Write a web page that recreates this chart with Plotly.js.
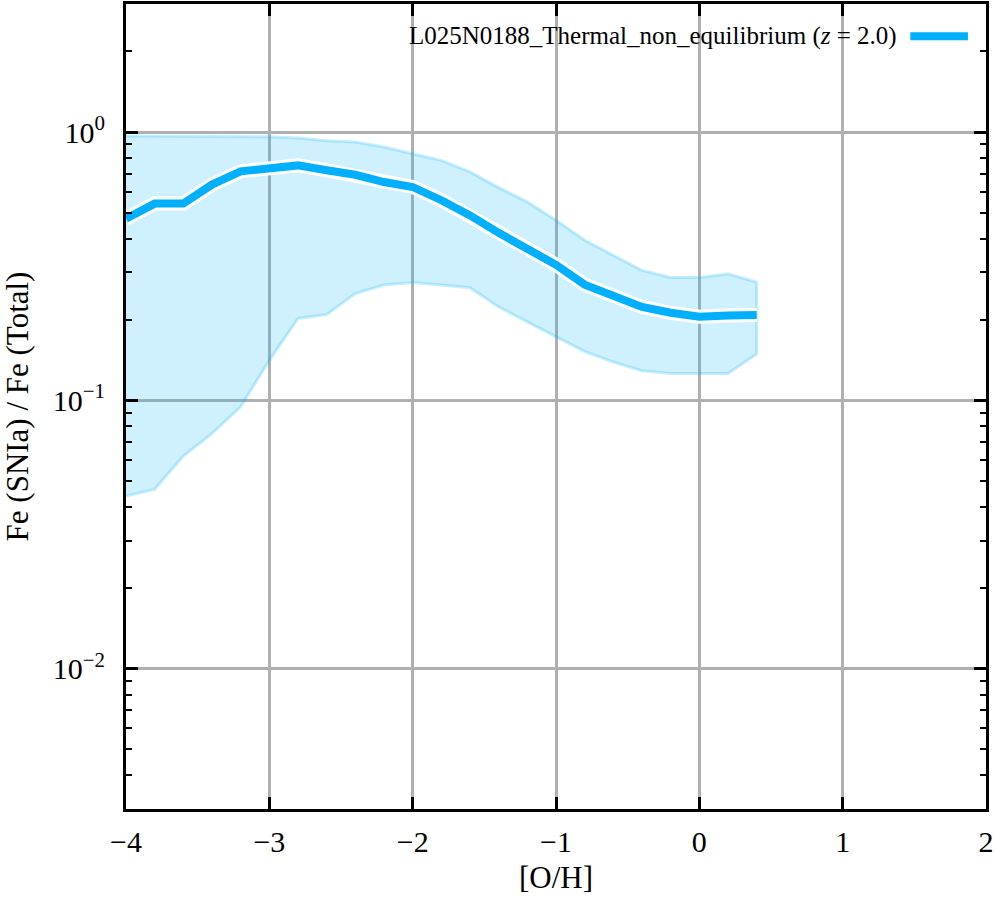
<!DOCTYPE html>
<html>
<head>
<meta charset="utf-8">
<script src="https://cdn.plot.ly/plotly-3.0.1.min.js"></script>
<style>
  body { margin: 0; background: #fff; }
  #chart { width: 996px; height: 900px; }
</style>
</head>
<body>
<div id="chart"></div>
<script>
// [O/H] bin centres and Fe(SNIa)/Fe(Total) percentiles
var oh = [-4.0, -3.8, -3.6, -3.4, -3.2, -3.0, -2.8, -2.6, -2.4, -2.2, -2.0, -1.8,
          -1.6, -1.4, -1.2, -1.0, -0.8, -0.6, -0.4, -0.2, 0.0, 0.2, 0.4];
var median = [0.475, 0.541, 0.541, 0.637, 0.714, 0.730, 0.751, 0.720, 0.693, 0.651, 0.624, 0.557,
              0.489, 0.421, 0.368, 0.320, 0.270, 0.246, 0.223, 0.212, 0.205, 0.207, 0.208];
var upper = [0.966, 0.966, 0.960, 0.966, 0.966, 0.960, 0.950, 0.928, 0.918, 0.880, 0.830, 0.784,
             0.710, 0.621, 0.549, 0.469, 0.395, 0.347, 0.305, 0.287, 0.287, 0.296, 0.276];
var lower = [0.044, 0.0466, 0.062, 0.0752, 0.0946, 0.141, 0.202, 0.209, 0.250, 0.269, 0.275, 0.269,
             0.263, 0.223, 0.196, 0.172, 0.152, 0.139, 0.129, 0.126, 0.126, 0.126, 0.149];

var seriesName = "L025N0188_Thermal_non_equilibrium (<i>z</i> = 2.0)";
var yTickVals = [0.01, 0.1, 1];
var yTickText = ["10<sup>\u22122</sup>", "10<sup>\u22121</sup>", "10<sup>0</sup>"];

var blue = "#00b0ff";
var serif = "Liberation Serif";

// minor ticks 2..9 x 10^d on the log axis
var yMinor = [];
for (var d = -3; d <= 0; d++) {
  for (var m = 2; m <= 9; m++) {
    yMinor.push(m * Math.pow(10, d));
  }
}

// band polygon: upper going right, lower coming back
var bandX = oh.concat(oh.slice().reverse());
var bandY = upper.concat(lower.slice().reverse());

var band = {
  x: bandX, y: bandY,
  mode: "lines", fill: "toself",
  fillcolor: "rgba(0,176,255,0.19)",
  line: { color: "rgba(0,176,255,0.22)", width: 3 },
  hoverinfo: "skip", showlegend: false
};
var halo = {
  x: oh, y: median, mode: "lines",
  line: { color: "#ffffff", width: 14 },
  hoverinfo: "skip", showlegend: false
};
var med = {
  x: oh, y: median, mode: "lines",
  line: { color: blue, width: 8 },
  name: seriesName, showlegend: false
};

var layout = {
  width: 996, height: 900,
  margin: { l: 126, r: 10, t: 4, b: 91 },
  paper_bgcolor: "#fff", plot_bgcolor: "#fff",
  font: { family: serif, color: "#000", size: 30 },
  showlegend: false,
  xaxis: {
    range: [-4, 2], dtick: 1, tick0: 0,
    showgrid: true, gridcolor: "#b0b0b0", gridwidth: 3, zeroline: false,
    showline: true, linecolor: "#000", linewidth: 3, mirror: "allticks",
    ticks: "inside", ticklen: 12, tickwidth: 3, tickcolor: "#000",
    ticklabelstandoff: 4,
    tickfont: { family: serif, size: 30 },
    title: { text: "[O/H]", font: { family: serif, size: 31 }, standoff: 10 }
  },
  yaxis: {
    type: "log", range: [Math.log10(0.003), Math.log10(3)],
    tickmode: "array", tickvals: yTickVals, ticktext: yTickText,
    showgrid: true, gridcolor: "#b0b0b0", gridwidth: 3, zeroline: false,
    showline: true, linecolor: "#000", linewidth: 3, mirror: "allticks",
    ticks: "inside", ticklen: 12, tickwidth: 3, tickcolor: "#000",
    ticklabelstandoff: 12,
    tickfont: { family: serif, size: 30 },
    minor: { tickmode: "array", tickvals: yMinor, ticks: "inside", ticklen: 6,
             tickwidth: 2, tickcolor: "#000", showgrid: false },
    title: { text: "Fe (SNIa) / Fe (Total)", font: { family: serif, size: 31 }, standoff: 18 }
  },
  annotations: [{
    xref: "paper", yref: "paper", x: 0.899, y: 0.96,
    xanchor: "right", yanchor: "middle", showarrow: false,
    text: seriesName, font: { family: serif, size: 25, color: "#000" }
  }],
  shapes: [{
    type: "line", xref: "paper", yref: "paper",
    x0: 0.912, x1: 0.979, y0: 0.96, y1: 0.96,
    line: { color: blue, width: 8 }
  }]
};

Plotly.newPlot("chart", [band, halo, med], layout, { displayModeBar: false, staticPlot: true });
</script>
</body>
</html>
